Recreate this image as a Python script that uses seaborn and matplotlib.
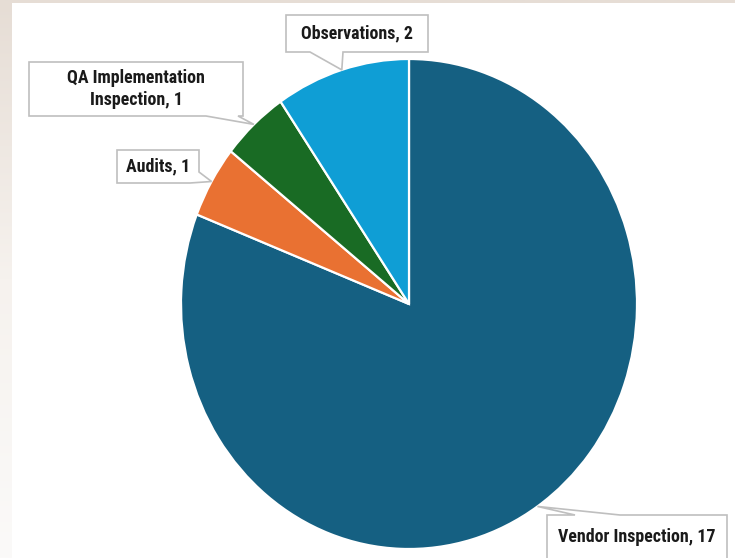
import numpy as np
import matplotlib
matplotlib.use("Agg")
import matplotlib.pyplot as plt
import seaborn as sns
from matplotlib import font_manager
from matplotlib.patches import Polygon, Rectangle
from matplotlib.colors import LinearSegmentedColormap

categories = ["Vendor Inspection", "Audits", "QA Implementation\nInspection", "Observations"]
values = [17, 1, 1, 2]
colors = ["#156082", "#E97132", "#196B24", "#0F9ED5"]

sns.set_theme(style="white")
available = {f.name for f in font_manager.fontManager.ttflist}
candidates = ['Liberation Sans Narrow', 'Roboto Condensed', 'DejaVu Sans Condensed',
              'Open Sans Condensed', 'Liberation Sans', 'DejaVu Sans']
font_name = next(f for f in candidates if f in available)
plt.rcParams['font.family'] = [font_name, 'DejaVu Sans']

W, H = 735, 558
fig = plt.figure(figsize=(W / 100, H / 100), dpi=100)
fig.patch.set_facecolor('white')

# background with beige gradient margin
bg = fig.add_axes([0, 0, 1, 1], zorder=0)
bg.set_xlim(0, W)
bg.set_ylim(H, 0)
bg.axis('off')
grad = np.linspace(0, 1, 256).reshape(-1, 1)
cmap = LinearSegmentedColormap.from_list('bg', ['#E6DDD5', '#F6F2EE', '#FBFAF9'])
bg.imshow(grad, extent=(0, W, H, 0), cmap=cmap, aspect='auto')
bg.add_patch(Rectangle((12, 3), W - 12, H - 3, fc='white', ec='none'))

# pie (slightly elliptical like the reference)
pax = fig.add_axes([181 / W, (H - 549) / H, 456 / W, 490 / H], zorder=1)
pal = sns.color_palette(colors)
wedges, _ = pax.pie(values, colors=pal, startangle=90, counterclock=False, radius=1,
                    wedgeprops=dict(edgecolor='white', linewidth=1.6))
pax.set_aspect('auto')
pax.set_xlim(-1, 1)
pax.set_ylim(-1, 1)
pax.axis('off')

# overlay for callouts in pixel coords
ov = fig.add_axes([0, 0, 1, 1], zorder=2)
ov.set_xlim(0, W)
ov.set_ylim(H, 0)
ov.axis('off')
ov.patch.set_alpha(0)

fig.canvas.draw()
renderer = fig.canvas.get_renderer()

# fit font size so the longest one-line label is ~157 px wide as in the reference
probe = ov.text(0, 0, "Vendor Inspection, 17", fontsize=12, fontweight='bold')
wpx = probe.get_window_extent(renderer).width
probe.remove()
fsize = float(np.clip(12 * 157 / wpx, 8, 13))


def tip_of(w):
    a = np.deg2rad((w.theta1 + w.theta2) / 2)
    p = pax.transData.transform((np.cos(a), np.sin(a)))
    return ov.transData.inverted().transform(p)


# callout outline vertices, None marks where the pointer tip goes
callouts = [
    # Vendor Inspection
    dict(verts=[(547, 515), (575, 515), None, (620, 515), (727, 515), (727, 575), (547, 575)],
         text_xy=(637, 537)),
    # Audits
    dict(verts=[(117, 150), (199, 150), (199, 172), None, (190, 183), (117, 183)],
         text_xy=(158, 166.5)),
    # QA Implementation Inspection
    dict(verts=[(29, 62), (243, 62), (243, 116), (238, 116), None, (206, 116), (29, 116)],
         text_xy=(136, 89)),
    # Observations
    dict(verts=[(286, 15), (428, 15), (428, 52), (343, 52), None, (310, 52), (286, 52)],
         text_xy=(357, 33.5)),
]

for w, cat, val, c in zip(wedges, categories, values, callouts):
    tip = tuple(tip_of(w))
    verts = [tip if v is None else v for v in c['verts']]
    ov.add_patch(Polygon(verts, closed=True, fc='white', ec='#BFBFBF', lw=1.2, joinstyle='miter'))
    ov.text(c['text_xy'][0], c['text_xy'][1], f"{cat}, {val}", ha='center', va='center',
            fontsize=fsize, fontweight='bold', color='#1A1A1A', linespacing=1.3)

fig.savefig('out.png', dpi=100)
